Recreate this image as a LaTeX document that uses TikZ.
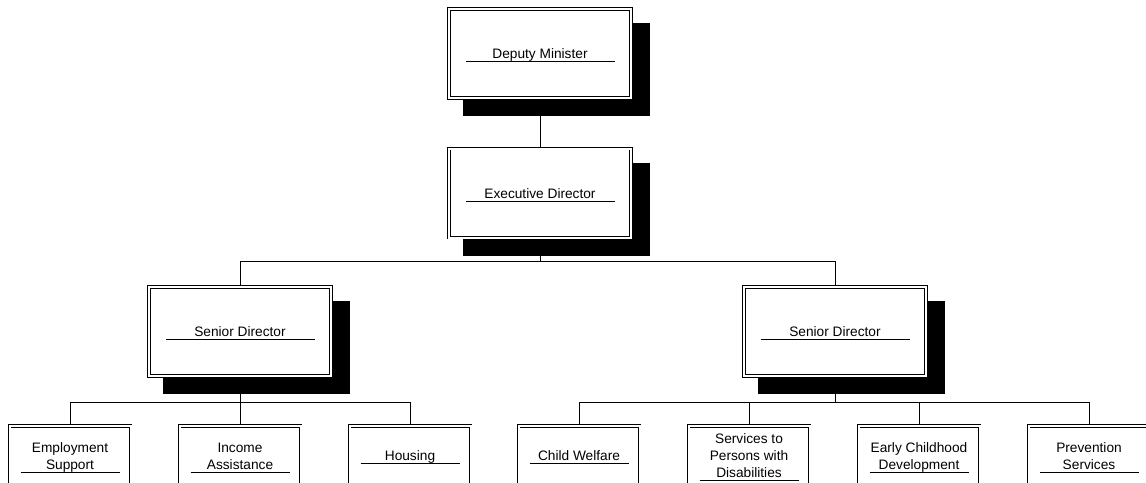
\documentclass[tikz,border=0pt]{standalone}
\usepackage{fontspec}
\setmainfont{Liberation Sans}
\usetikzlibrary{calc,backgrounds}
\begin{document}
\begin{tikzpicture}[x=1pt,y=-1pt,
  orgbox/.style={draw, double, double distance=2pt, line width=0.8pt, fill=white, rectangle, inner sep=0pt, outer sep=0pt},
  bigbox/.style={orgbox, minimum width=182pt, minimum height=89pt},
  smallbox/.style={orgbox, minimum width=121pt, minimum height=89pt},
  title/.style={anchor=base, inner sep=0pt, font=\fontsize{13.7}{17}\selectfont},
  rulestyle/.style={line width=0.8pt},
  link/.style={line width=0.8pt},
  shade/.style={fill=black}]
\useasboundingbox (0,0) rectangle (1146,482);
\clip (0,0) rectangle (1146,482);

% top level boxes
\node[bigbox] (dm) at (540,53.5) {};
\node[bigbox] (ed) at (540,193) {};
\node[bigbox] (sdl) at (240,331.5) {};
\node[bigbox] (sdr) at (835,331.5) {};

% bottom boxes
\node[smallbox] (b1) at (70,470.5) {};
\node[smallbox] (b2) at (240,470.5) {};
\node[smallbox] (b3) at (410,470.5) {};
\node[smallbox] (b4) at (579,470.5) {};
\node[smallbox] (b5) at (749,470.5) {};
\node[smallbox] (b6) at (919,470.5) {};
\node[smallbox] (b7) at (1089,470.5) {};

% titles of top boxes
\node[title] (dmt) at ($(dm.center)+(0,5)$) {Deputy Minister};
\node[title] (edt) at ($(ed.center)+(0,5)$) {Executive Director};
\node[title] (sdlt) at ($(sdl.center)+(0,5)$) {Senior Director};
\node[title] (sdrt) at ($(sdr.center)+(0,5)$) {Senior Director};
\foreach \b in {dm,ed,sdl,sdr}{
  \draw[rulestyle] ($(\b.west |- \b t.base)+(17,3)$) -- ($(\b.east |- \b t.base)+(-16,3)$);
}

% titles of bottom boxes
\node[title] (b1t) at (70,469) {\begin{tabular}[b]{@{}c@{}}Employment\\Support\end{tabular}};
\node[title] (b2t) at (240,469) {\begin{tabular}[b]{@{}c@{}}Income\\Assistance\end{tabular}};
\node[title] (b3t) at (410,460) {Housing};
\node[title] (b4t) at (579,460) {Child Welfare};
\node[title] (b5t) at (749,477) {\begin{tabular}[b]{@{}c@{}}Services to\\Persons with\\Disabilities\end{tabular}};
\node[title] (b6t) at (919,469) {\begin{tabular}[b]{@{}c@{}}Early Childhood\\Development\end{tabular}};
\node[title] (b7t) at (1089,469) {\begin{tabular}[b]{@{}c@{}}Prevention\\Services\end{tabular}};
\foreach \b in {b1,b2,b3,b4,b5,b6,b7}{
  \draw[rulestyle] ($(\b.west |- \b t.base)+(11,3)$) -- ($(\b.east |- \b t.base)+(-11,3)$);
}

\begin{scope}[on background layer]
  \foreach \b in {dm,ed,sdl,sdr}{
    \fill[shade] ([shift={(14,14)}]\b.north west) rectangle ([shift={(19,18)}]\b.south east);
  }
  \path (ed.south) ++(0,24) coordinate (edj);
  \path (sdl.south) ++(0,26) coordinate (sdlj);
  \path (sdr.south) ++(0,26) coordinate (sdrj);
  \draw[link] (dm.south) -- (ed.north);
  \draw[link] (ed.south) -- (edj) -| (sdl.north);
  \draw[link] (edj) -| (sdr.north);
  \draw[link] (sdl.south) -- (sdlj);
  \draw[link] (sdlj) -| (b1.north);
  \draw[link] (sdlj) -| (b2.north);
  \draw[link] (sdlj) -| (b3.north);
  \draw[link] (sdr.south) -- (sdrj);
  \draw[link] (sdrj) -| (b4.north);
  \draw[link] (sdrj) -| (b5.north);
  \draw[link] (sdrj) -| (b6.north);
  \draw[link] (sdrj) -| (b7.north);
\end{scope}
\end{tikzpicture}
\end{document}
